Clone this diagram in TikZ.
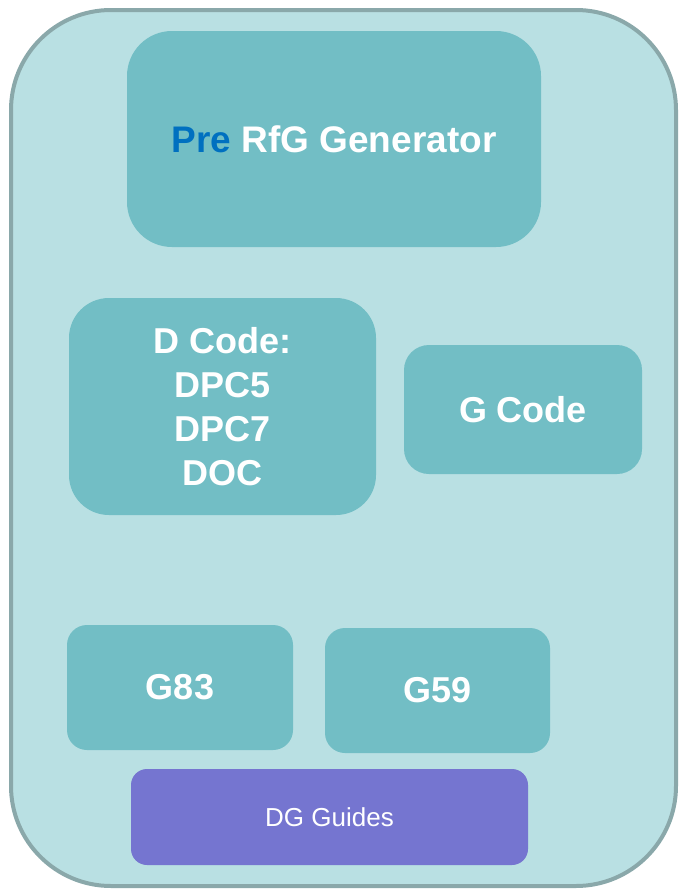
\documentclass[tikz,border=0pt]{standalone}
\usepackage{fontspec}
\setmainfont{Liberation Sans}
\definecolor{outerfill}{HTML}{B9E0E3}
\definecolor{outerline}{HTML}{8AA8AA}
\definecolor{boxfill}{HTML}{72BEC5}
\definecolor{guidefill}{HTML}{7575D0}
\definecolor{preblue}{HTML}{0070C0}
\tikzset{
  tealbox/.style={fill=boxfill, draw=none, text=white, font=\fontsize{36}{44}\selectfont\bfseries, align=center, inner sep=0pt},
}
\begin{document}
\begin{tikzpicture}[x=1pt,y=-1pt]
\useasboundingbox (0,0) rectangle (679,889);
\draw[fill=outerfill, draw=outerline, line width=4pt, rounded corners=100pt] (11,10) rectangle (676,886);
\node[tealbox, minimum width=414pt, minimum height=216pt, rounded corners=45pt] (pre) at (334,139) {\fontsize{37}{44}\selectfont\textcolor{preblue}{Pre} RfG Generator};
\node[tealbox, minimum width=307pt, minimum height=217pt, rounded corners=40pt] (dcode) at (222.5,406.5) {D Code:\\DPC5\\DPC7\\DOC};
\node[tealbox, minimum width=238pt, minimum height=129pt, rounded corners=25pt] (gcode) at (523,409.5) {G Code};
\node[tealbox, minimum width=226pt, minimum height=125pt, rounded corners=20pt] (g83) at (180,687.5) {G83};
\node[tealbox, minimum width=225pt, minimum height=125pt, rounded corners=20pt] (g59) at (437.5,690.5) {G59};
\node[fill=guidefill, text=white, font=\fontsize{26}{30}\selectfont, minimum width=397pt, minimum height=96pt, rounded corners=16pt, inner sep=0pt] (dg) at (329.5,817) {DG Guides};
\end{tikzpicture}
\end{document}
